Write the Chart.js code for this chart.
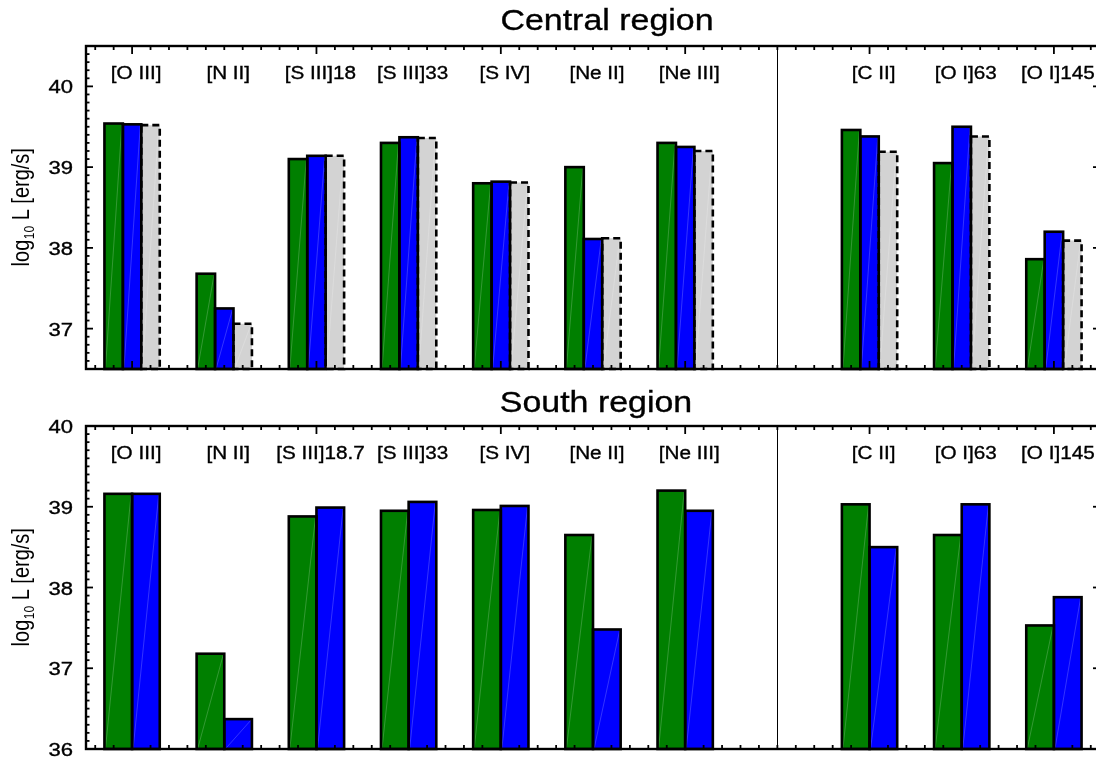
<!DOCTYPE html>
<html>
<head>
<meta charset="utf-8">
<script src="https://cdn.jsdelivr.net/npm/chart.js@4/dist/chart.umd.min.js"></script>
<style>
  html, body { margin: 0; padding: 0; background: #fff; overflow: hidden; }
  #wrap { position: relative; width: 1096px; height: 757px; overflow: hidden; background: #fff; }
  canvas { position: absolute; left: 0; }
  #central { top: 0; }
  #south { top: 380px; }
</style>
</head>
<body>
<div id="wrap">
  <canvas id="central" width="1104" height="380"></canvas>
  <canvas id="south" width="1104" height="377"></canvas>
</div>
<script>
// slot of each emission line on the x axis (slot 7 is the gap / divider)
const linePos = [0, 1, 2, 3, 4, 5, 6, 8, 9, 10];
const dividerPos = 7;
const xRange = [-0.5, 10.5];

const centralLabels = ['[O III]', '[N II]', '[S III]18', '[S III]33', '[S IV]', '[Ne II]', '[Ne III]', '[C II]', '[O I]63', '[O I]145'];
const southLabels   = ['[O III]', '[N II]', '[S III]18.7', '[S III]33', '[S IV]', '[Ne II]', '[Ne III]', '[C II]', '[O I]63', '[O I]145'];

// log10 L [erg/s]
const centralGreen = [39.54, 37.68, 39.10, 39.30, 38.80, 39.00, 39.30, 39.46, 39.05, 37.86];
const centralBlue  = [39.53, 37.25, 39.14, 39.37, 38.82, 38.11, 39.25, 39.38, 39.50, 38.20];
const centralGrey  = [39.52, 37.06, 39.14, 39.36, 38.81, 38.12, 39.20, 39.19, 39.38, 38.09];

const southGreen = [39.16, 37.18, 38.88, 38.95, 38.96, 38.65, 39.20, 39.03, 38.65, 37.53];
const southBlue  = [39.16, 36.37, 38.99, 39.06, 39.01, 37.48, 38.95, 38.50, 39.03, 37.88];

const centralYRange = [36.5, 40.5];
const southYRange   = [36, 40];
const centralYTicks = [37, 38, 39, 40];
const southYTicks   = [36, 37, 38, 39, 40];

const FONT = '"Liberation Sans", Arial, Helvetica, sans-serif';

function pts(vals) {
  return vals.map((v, i) => ({ x: linePos[i], y: v }));
}

function stretchText(ctx, text, x, y, size, align, sx) {
  ctx.save();
  ctx.translate(x, y);
  ctx.scale(sx, 1);
  ctx.font = `${size}px ${FONT}`;
  ctx.textAlign = align;
  ctx.textBaseline = 'alphabetic';
  ctx.fillStyle = '#000';
  ctx.strokeStyle = '#000';
  ctx.lineWidth = 0.35;
  ctx.fillText(text, 0, 0);
  ctx.strokeText(text, 0, 0);
  ctx.restore();
}

function seg(ctx, x0, y0, x1, y1) {
  ctx.beginPath();
  ctx.moveTo(x0, y0);
  ctx.lineTo(x1, y1);
  ctx.stroke();
}

// frame, ticks, outlines and all text (IDL-like look)
const panelPlugin = {
  id: 'panel',
  afterDatasetsDraw(chart, args, opts) {
    const ctx = chart.ctx;
    const xs = chart.scales.x, ys = chart.scales.y;
    const { left, right, top, bottom } = chart.chartArea;

    // bar outlines (solid, or dashed for the grey set) + faint diagonal seam
    chart.data.datasets.forEach((ds, di) => {
      const meta = chart.getDatasetMeta(di);
      meta.data.forEach(bar => {
        const p = bar.getProps(['x', 'y', 'base', 'width'], true);
        const base = Math.min(p.base, bottom);
        const bl = p.x - p.width / 2;
        ctx.save();
        ctx.strokeStyle = 'rgba(255,255,255,0.2)';
        ctx.lineWidth = 1;
        seg(ctx, bl + 1, base, bl + p.width - 1, p.y + 1);
        ctx.strokeStyle = '#000';
        ctx.lineWidth = 2.6;
        if (di === 2) ctx.setLineDash([7, 4]);
        ctx.strokeRect(bl, p.y, p.width, base - p.y);
        ctx.restore();
      });
    });

    ctx.save();
    ctx.strokeStyle = '#000';

    // divider between mid-IR and far-IR lines
    ctx.lineWidth = 1;
    const dx = Math.round(xs.getPixelForValue(dividerPos)) + 0.5;
    seg(ctx, dx, top, dx, bottom);

    // frame
    ctx.lineWidth = 2.4;
    ctx.strokeRect(left, top, right - left, bottom - top);

    // y ticks, both sides: minor 0.1, major 1
    ctx.lineWidth = 1.8;
    for (let k = Math.ceil(ys.min * 10); k <= Math.floor(ys.max * 10); k++) {
      const py = ys.getPixelForValue(k / 10);
      const len = k % 10 === 0 ? 7 : 3.5;
      seg(ctx, left, py, left + len, py);
      seg(ctx, right, py, right - len, py);
    }
    // x ticks, top and bottom: minor 0.2, major 2
    for (let k = Math.ceil(xs.min * 5); k <= Math.floor(xs.max * 5); k++) {
      const px = xs.getPixelForValue(k / 5);
      const len = k % 10 === 0 ? 8 : 4;
      seg(ctx, px, bottom, px, bottom - len);
      seg(ctx, px, top, px, top + len);
    }
    ctx.restore();

    // y tick labels
    opts.yTicks.forEach(v => {
      stretchText(ctx, String(v), left - 13, ys.getPixelForValue(v) + 7, 17.5, 'right', 1.26);
    });

    // line labels
    opts.labels.forEach((lab, i) => {
      stretchText(ctx, lab, xs.getPixelForValue(linePos[i]) + 4, top + 33, 18, 'center', 1.15);
    });

    // panel title
    stretchText(ctx, opts.title, (left + right) / 2 + opts.titleShift, top - 16 + opts.titleDrop, 29, 'center', 1.17);

    // y axis title: log10 L [erg/s], rotated, with subscript
    const yc = (top + bottom) / 2;
    ctx.save();
    ctx.translate(29, yc);
    ctx.rotate(-Math.PI / 2);
    ctx.scale(1, 1.15);
    ctx.fillStyle = '#000';
    ctx.textBaseline = 'alphabetic';
    ctx.textAlign = 'left';
    const big = `20px ${FONT}`, small = `12px ${FONT}`;
    ctx.font = big;
    const w1 = ctx.measureText('log').width;
    const w3 = ctx.measureText(' L [erg/s]').width;
    ctx.font = small;
    const w2 = ctx.measureText('10').width;
    let cx = -(w1 + w2 + w3) / 2;
    ctx.font = big;
    ctx.fillText('log', cx, 0);
    cx += w1;
    ctx.font = small;
    ctx.fillText('10', cx + 0.5, 4);
    cx += w2 + 0.5;
    ctx.font = big;
    ctx.fillText(' L [erg/s]', cx, 0);
    ctx.restore();
  }
};

function makeChart(id, datasets, yRange, panelOpts, padBottom) {
  return new Chart(document.getElementById(id), {
    type: 'bar',
    data: { datasets },
    options: {
      responsive: false,
      animation: false,
      events: [],
      layout: { padding: { left: 86, right: 4, top: 46, bottom: padBottom } },
      datasets: { bar: { categoryPercentage: 0.6, barPercentage: 1.0, borderWidth: 0, base: yRange[0] } },
      scales: {
        x: {
          type: 'linear', display: false, offset: false,
          min: xRange[0], max: xRange[1],
          ticks: { stepSize: 1, includeBounds: false },
          grid: { display: false }
        },
        y: {
          type: 'linear', display: false,
          min: yRange[0], max: yRange[1],
          grid: { display: false }
        }
      },
      plugins: {
        legend: { display: false },
        tooltip: { enabled: false },
        title: { display: false },
        panel: panelOpts
      }
    },
    plugins: [panelPlugin]
  });
}

makeChart('central', [
  { label: 'green', data: pts(centralGreen), backgroundColor: '#007f00' },
  { label: 'blue',  data: pts(centralBlue),  backgroundColor: '#0000ff' },
  { label: 'grey',  data: pts(centralGrey),  backgroundColor: '#d3d3d3' }
], centralYRange, {
  title: 'Central region', titleShift: 14, titleDrop: 0,
  labels: centralLabels, yTicks: centralYTicks
}, 11);

makeChart('south', [
  { label: 'green', data: pts(southGreen), backgroundColor: '#007f00' },
  { label: 'blue',  data: pts(southBlue),  backgroundColor: '#0000ff' }
], southYRange, {
  title: 'South region', titleShift: 3, titleDrop: 2,
  labels: southLabels, yTicks: southYTicks
}, 8);
</script>
</body>
</html>
